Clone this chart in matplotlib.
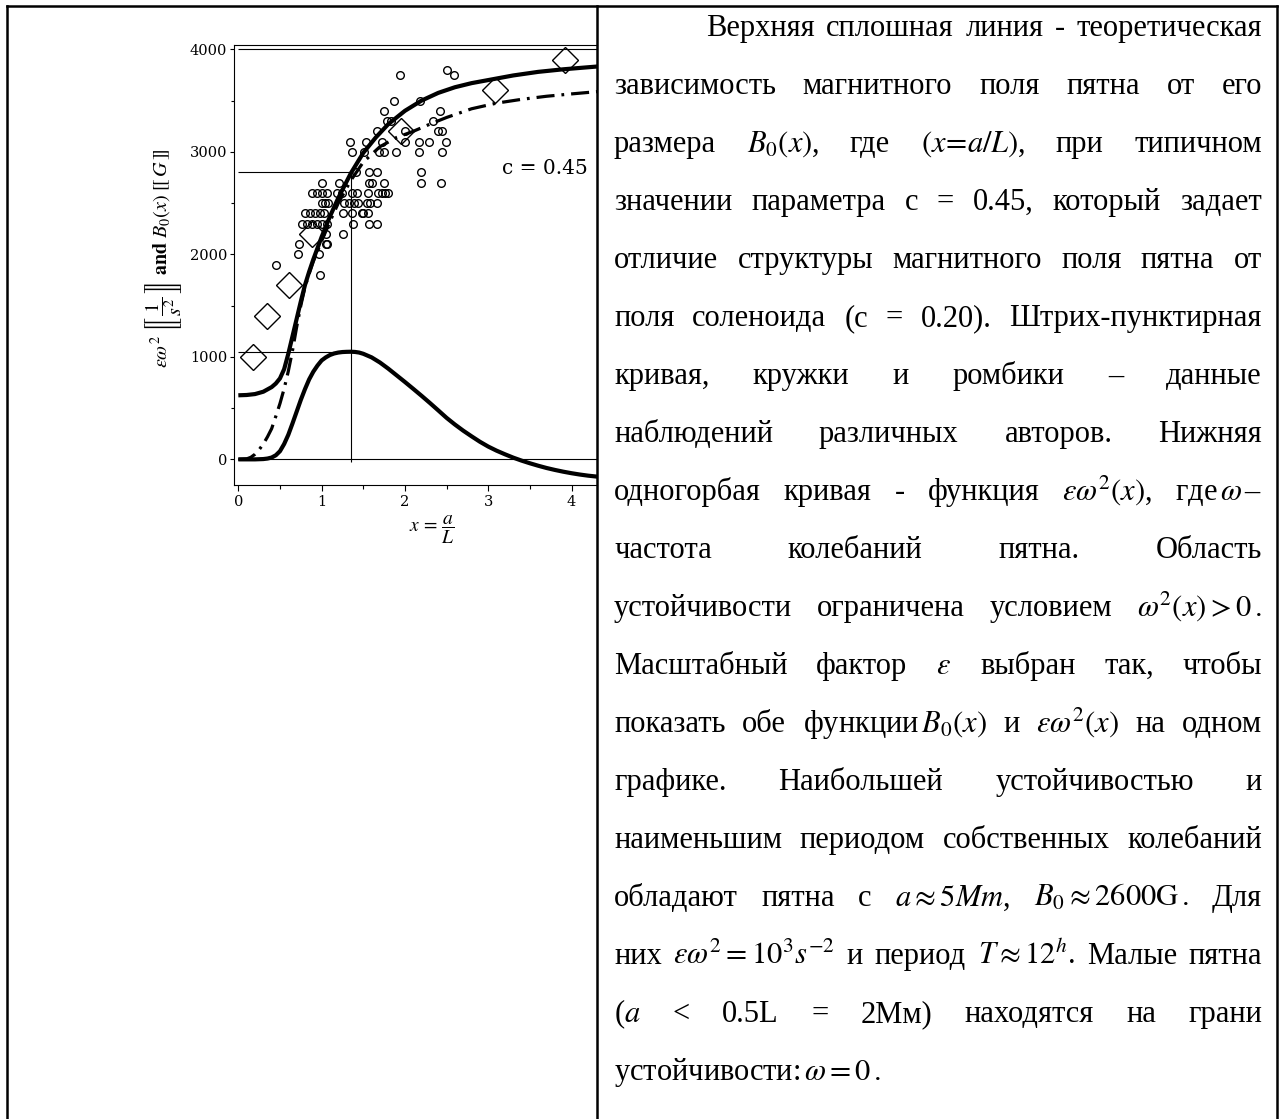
import matplotlib
matplotlib.use("Agg")
import matplotlib.pyplot as plt
from matplotlib.lines import Line2D

plt.rcParams['font.family'] = ['Liberation Serif', 'DejaVu Serif']
plt.rcParams['mathtext.fontset'] = 'stix'
plt.rcParams['lines.scale_dashes'] = False

W, H = 1282, 1119

# theoretical B0(x) for c = 0.45
b0_x = [0, 0.1, 0.2, 0.3, 0.4, 0.45, 0.5, 0.55, 0.6, 0.65, 0.7, 0.75, 0.8, 0.85, 0.9, 1.0,
        1.1, 1.2, 1.35, 1.5, 1.65, 1.8, 2.0, 2.2, 2.4, 2.6, 2.8, 3.0, 3.3, 3.6, 3.9, 4.35]
b0_y = [625, 628, 637, 660, 705, 740, 790, 880, 1030, 1200, 1370, 1540, 1700, 1830, 1950, 2170,
        2370, 2550, 2790, 2990, 3140, 3270, 3400, 3500, 3575, 3630, 3670, 3700, 3745, 3780, 3805, 3835]

# dash-dot curve through the observations
obs_x = [0.0, 0.1, 0.15, 0.2, 0.25, 0.3, 0.35, 0.4, 0.45, 0.5, 0.55, 0.6, 0.65, 0.7, 0.75, 0.8,
         0.85, 0.9, 1.0, 1.1, 1.2, 1.35, 1.5, 1.7, 1.9, 2.1, 2.3, 2.5, 2.8, 3.1, 3.4, 3.7, 4.0, 4.35]
obs_y = [0, 5, 20, 50, 95, 150, 220, 300, 420, 545, 690, 860, 1060, 1290, 1500, 1680,
         1810, 1930, 2130, 2320, 2500, 2720, 2900, 3050, 3140, 3200, 3270, 3335, 3420, 3475, 3512, 3542, 3565, 3590]

# eps*omega^2(x), one-hump curve
w2_x = [0, 0.2, 0.3, 0.35, 0.4, 0.45, 0.5, 0.55, 0.6, 0.65, 0.7, 0.75, 0.8, 0.85, 0.9, 0.95,
        1.0, 1.05, 1.1, 1.15, 1.2, 1.25, 1.3, 1.35, 1.4, 1.45, 1.5, 1.6, 1.7, 1.8, 1.9, 2.0,
        2.1, 2.2, 2.3, 2.4, 2.5, 2.6, 2.7, 2.8, 2.9, 3.0, 3.1, 3.2, 3.3, 3.4, 3.5, 3.6,
        3.7, 3.8, 3.9, 4.0, 4.1, 4.2, 4.35]
w2_y = [0, 0, 3, 8, 18, 40, 80, 150, 240, 350, 465, 580, 685, 780, 855, 915,
        965, 995, 1018, 1033, 1042, 1047, 1049, 1050, 1048, 1042, 1030, 995, 945, 885, 820, 755,
        688, 620, 550, 478, 405, 340, 280, 225, 172, 125, 85, 50, 17, -12, -38, -62,
        -84, -103, -120, -135, -148, -159, -172]

# observed spots (circles)
circ_x = [1.94, 2.51, 2.59, 1.87, 2.18, 1.75, 2.42, 1.78, 1.83, 2.34,
          1.67, 2.00, 2.40, 2.45, 1.34, 1.53, 1.73, 2.00, 2.17, 2.29, 2.49,
          1.37, 1.51, 1.69, 1.75, 1.89, 2.17, 2.44, 1.41, 1.57, 1.66, 2.19,
          1.01, 1.21, 1.57, 1.61, 1.75, 2.19, 2.43,
          0.89, 0.95, 1.00, 1.06, 1.19, 1.25, 1.36, 1.42, 1.56, 1.68, 1.72, 1.76, 1.80,
          1.00, 1.04, 1.08, 1.27, 1.33, 1.39, 1.44, 1.54, 1.58, 1.67,
          0.80, 0.86, 0.92, 0.98, 1.03, 1.26, 1.36, 1.48, 1.50, 1.56,
          0.76, 0.82, 0.88, 0.94, 1.00, 1.06, 1.38, 1.57, 1.67,
          1.05, 1.26, 0.73, 1.05, 1.07, 0.72, 0.97, 0.45, 0.98]
circ_y = [3750, 3800, 3750, 3500, 3500, 3400, 3400, 3300, 3300, 3300,
          3200, 3200, 3200, 3200, 3100, 3100, 3100, 3100, 3100, 3100, 3100,
          3000, 3000, 3000, 3000, 3000, 3000, 3000, 2800, 2800, 2800, 2800,
          2700, 2700, 2700, 2700, 2700, 2700, 2700,
          2600, 2600, 2600, 2600, 2600, 2600, 2600, 2600, 2600, 2600, 2600, 2600, 2600,
          2500, 2500, 2500, 2500, 2500, 2500, 2500, 2500, 2500, 2500,
          2400, 2400, 2400, 2400, 2400, 2400, 2400, 2400, 2400, 2400,
          2300, 2300, 2300, 2300, 2300, 2300, 2300, 2300, 2300,
          2200, 2200, 2100, 2100, 2100, 2000, 2000, 1900, 1800]

# other authors (diamonds)
diam_x = [0.18, 0.34, 0.61, 0.89, 1.95, 3.08, 3.92]
diam_y = [1000, 1400, 1700, 2200, 3200, 3600, 3900]

x_peak = 1.35
w2_peak = 1050
b0_peak = 2800


def fx(px):
    return px / W


def fy(py):
    return 1 - py / H


fig = plt.figure(figsize=(W / 100, H / 100), dpi=100)

ax = fig.add_axes([fx(234), fy(485), (597 - 234) / W, (485 - 44.7) / H])
ax.set_xlim(-0.052, 4.306)
ax.set_ylim(-250, 4045)

# guide lines
ax.hlines([0, 4000], 0, 5, color='k', lw=0.8)
ax.hlines([w2_peak, b0_peak], 0, x_peak, color='k', lw=0.8)
ax.vlines(x_peak, -30, b0_peak, color='k', lw=0.8)

ax.plot(b0_x, b0_y, color='k', lw=3.0, solid_capstyle='butt')
ax.plot(obs_x, obs_y, color='k', lw=2.3, dashes=[13, 5, 2, 5])
ax.plot(w2_x, w2_y, color='k', lw=3.0, solid_capstyle='butt')
ax.plot(circ_x, circ_y, 'o', ms=5.5, mfc='none', mec='k', mew=1.0)
ax.plot(diam_x, diam_y, 'D', ms=13.5, mfc='none', mec='k', mew=1.0)

ax.text(3.68, 2839, 'c = 0.45', fontfamily='DejaVu Serif', fontsize=14.5,
        ha='center', va='center')

ax.spines['right'].set_visible(False)
for s in ['left', 'bottom', 'top']:
    ax.spines[s].set_linewidth(0.8)
ax.set_xticks([0, 1, 2, 3, 4])
ax.set_xticks([0.5, 1.5, 2.5, 3.5], minor=True)
ax.set_yticks([0, 1000, 2000, 3000, 4000])
ax.set_yticks([500, 1500, 2500, 3500], minor=True)
ax.tick_params(axis='both', which='both', direction='out', width=0.8,
               labelfontfamily='DejaVu Serif', labelsize=10.5)
ax.tick_params(axis='x', which='major', length=4, pad=3)
ax.tick_params(axis='x', which='minor', length=3)
ax.tick_params(axis='y', which='major', length=3, pad=2)
ax.tick_params(axis='y', which='minor', length=2)

fig.text(fx(163), fy(258),
         r'$\varepsilon\omega^2\ \left[\!\!\left[\,\dfrac{1}{s^2}\,\right]\!\!\right]\ '
         r'\mathbf{and}\ B_0(x)\ [\![\,G\,]\!]$',
         rotation=90, ha='center', va='center', fontsize=14.5)
fig.text(fx(432), fy(530), r'$x\,=\,\dfrac{a}{L}$', ha='center', va='center', fontsize=14)

# table frame
frame = [((7, 6), (1277, 6)), ((7, 6), (7, H)), ((597, 6), (597, H)), ((1277, 6), (1277, H))]
for (x0, y0), (x1, y1) in frame:
    fig.add_artist(Line2D([fx(x0), fx(x1)], [fy(y0), fy(y1)], transform=fig.transFigure,
                          color='k', lw=1.8))

para_lines = [
    ['Верхняя', 'сплошная', 'линия', '-', 'теоретическая'],
    ['зависимость', 'магнитного', 'поля', 'пятна', 'от', 'его'],
    ['размера', r'$B_0(x)$,', 'где', r'$(x\!=\!a/L)$,', 'при', 'типичном'],
    ['значении', 'параметра', 'с', '=', '0.45,', 'который', 'задает'],
    ['отличие', 'структуры', 'магнитного', 'поля', 'пятна', 'от'],
    ['поля', 'соленоида', '(с', '=', '0.20).', 'Штрих-пунктирная'],
    ['кривая,', 'кружки', 'и', 'ромбики', '–', 'данные'],
    ['наблюдений', 'различных', 'авторов.', 'Нижняя'],
    ['одногорбая', 'кривая', '-', 'функция', r'$\varepsilon\omega^2(x)$,', r'где$\,\omega\,$–'],
    ['частота', 'колебаний', 'пятна.', 'Область'],
    ['устойчивости', 'ограничена', 'условием', r'$\omega^2(x)>0\,.$'],
    ['Масштабный', 'фактор', r'$\varepsilon$', 'выбран', 'так,', 'чтобы'],
    ['показать', 'обе', r'функции$\,B_0(x)$', 'и', r'$\varepsilon\omega^2(x)$', 'на', 'одном'],
    ['графике.', 'Наибольшей', 'устойчивостью', 'и'],
    ['наименьшим', 'периодом', 'собственных', 'колебаний'],
    ['обладают', 'пятна', 'с', r'$a\approx 5Mm$,', r'$B_0\approx 2600\mathrm{G}\,.$', 'Для'],
    ['них', r'$\varepsilon\omega^2=10^3s^{-2}$', 'и', 'период', r'$T\approx 12^h$.', 'Малые', 'пятна'],
    [r'($a$', '<', '0.5L', '=', '2Мм)', 'находятся', 'на', 'грани'],
    [r'устойчивости:$\,\omega=0\,.$'],
]

text_left, text_right, indent_left = 614, 1262, 706
first_base, line_step = 36, 58.0
renderer = fig.canvas.get_renderer()
for i, words in enumerate(para_lines):
    base = first_base + i * line_step
    objs = [fig.text(0, fy(base), w, fontsize=22, ha='left', va='baseline') for w in words]
    widths = [o.get_window_extent(renderer).width for o in objs]
    left = indent_left if i == 0 else text_left
    if i == len(para_lines) - 1 or len(words) == 1:
        gap = 8
    else:
        gap = (text_right - left - sum(widths)) / (len(words) - 1)
    x = left
    for o, w in zip(objs, widths):
        o.set_x(fx(x))
        x += w + gap

fig.savefig('out.png', dpi=100)
